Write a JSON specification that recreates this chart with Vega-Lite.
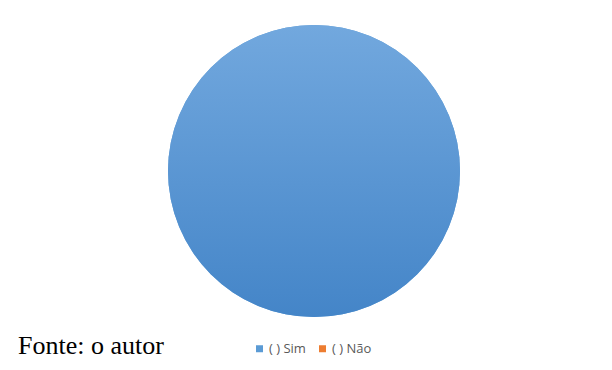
{
  "$schema": "https://vega.github.io/schema/vega-lite/v6.json",
  "width": 596,
  "height": 332,
  "autosize": {"type": "none"},
  "padding": {"left": 16, "top": 5, "right": 0, "bottom": 33},
  "background": "white",
  "config": {"view": {"stroke": null}},
  "title": {
    "text": "Fonte: o autor",
    "orient": "bottom",
    "anchor": "start",
    "font": "Liberation Serif",
    "fontSize": 26,
    "fontWeight": "normal",
    "color": "black",
    "offset": 0,
    "dx": 2,
    "dy": -23
  },
  "data": {"values": [
    {"resposta": "( ) Sim", "valor": 100},
    {"resposta": "( ) Não", "valor": 0}
  ]},
  "layer": [
    {
      "mark": {"type": "arc", "radius": 146},
      "encoding": {
        "theta": {"field": "valor", "type": "quantitative", "stack": true},
        "order": {"field": "resposta", "sort": "descending"},
        "color": {
          "field": "resposta",
          "type": "nominal",
          "sort": ["( ) Sim", "( ) Não"],
          "scale": {"domain": ["( ) Sim", "( ) Não"], "range": ["#5b9bd5", "#ed7d31"]},
          "legend": {
            "title": null,
            "orient": "none",
            "direction": "horizontal",
            "legendX": 237,
            "legendY": 337,
            "symbolType": "square",
            "symbolSize": 49,
            "symbolStrokeWidth": 0,
            "labelFont": "Open Sans",
            "labelFontSize": 13,
            "labelColor": "#595959",
            "columnPadding": 10,
            "labelOffset": 3
          }
        }
      }
    },
    {
      "mark": {
        "type": "arc",
        "radius": 146,
        "fill": {
          "gradient": "linear",
          "x1": 0, "y1": 0, "x2": 0, "y2": 1,
          "stops": [
            {"offset": 0, "color": "#72a8de"},
            {"offset": 1, "color": "#4485c8"}
          ]
        }
      },
      "encoding": {
        "theta": {"field": "valor", "type": "quantitative", "stack": true},
        "order": {"field": "resposta", "sort": "descending"}
      }
    }
  ]
}
